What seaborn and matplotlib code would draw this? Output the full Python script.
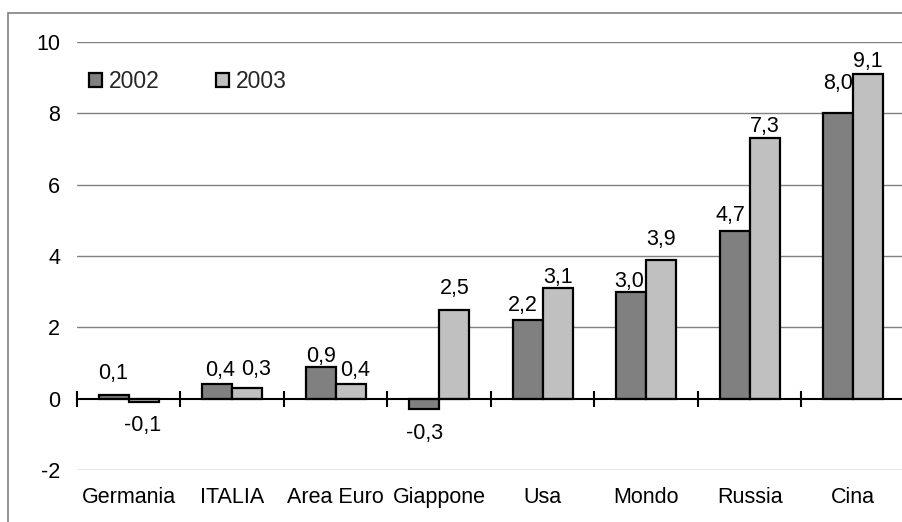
import matplotlib
matplotlib.use("Agg")
import matplotlib.pyplot as plt
from matplotlib.patches import Rectangle
import seaborn as sns
import pandas as pd

# Growth rates (%) by economy
paesi = ["Germania", "ITALIA", "Area Euro", "Giappone", "Usa", "Mondo", "Russia", "Cina"]
anni = ["2002", "2003"]
valori_2002 = [0.1, 0.4, 0.9, -0.3, 2.2, 3.0, 4.7, 8.0]
valori_2003 = [-0.1, 0.3, 0.4, 2.5, 3.1, 3.9, 7.3, 9.1]
y_ticks = [-2, 0, 2, 4, 6, 8, 10]

# value-label placement (px): distance from the bar end and sideways nudge,
# so neighbouring labels do not collide
gap_2002 = [16, 8, 5, 16, 9, 5, 10, 24]
gap_2003 = [15, 13, 8, 16, 5, 15, 6, 7]
dx_2002 = [-1, 3, 0, 0, -5, -2, -4, 0]
dx_2003 = [-1, 9, 4, 0, 0, 0, 0, 0]

df = pd.DataFrame({
    "paese": paesi * 2,
    "anno": [anni[0]] * len(paesi) + [anni[1]] * len(paesi),
    "valore": valori_2002 + valori_2003,
})

FS = 15.5

sns.set_theme(style="white")
plt.rcParams["font.family"] = ["Liberation Sans", "DejaVu Sans"]
plt.rcParams["font.size"] = FS

W, H = 903, 522
fig = plt.figure(figsize=(W / 100, H / 100), dpi=100)
fig.patch.set_facecolor("white")

# outer frame of the chart area
fig.patches.append(Rectangle((8 / W, -0.1), 1.2, 1 - 13 / H + 0.1,
                             transform=fig.transFigure, fill=False,
                             edgecolor="#808080", linewidth=1.2, zorder=0))

ax = fig.add_axes([77 / W, 1 - 470 / H, 828 / W, 428 / H])

sns.barplot(data=df, x="paese", y="valore", hue="anno", order=paesi,
            hue_order=anni, palette=["#808080", "#c0c0c0"], width=0.58,
            gap=0, edgecolor="black", linewidth=1.6, saturation=1,
            ax=ax, zorder=3)

ax.set_xlim(-0.5, len(paesi) - 0.5)
ax.set_ylim(y_ticks[0], y_ticks[-1])
ax.set_xlabel("")
ax.set_ylabel("")

# horizontal gridlines
ax.set_yticks(y_ticks)
ax.set_yticklabels([str(t) for t in y_ticks])
ax.tick_params(axis="y", length=0, pad=12, labelsize=FS, colors="black")
for t in y_ticks:
    if t != 0:
        ax.axhline(t, color="#808080", linewidth=1.0, zorder=1)

for s in ["top", "right", "left"]:
    ax.spines[s].set_visible(False)

# category axis running through zero, with ticks between the groups
ax.spines["bottom"].set_position(("data", 0))
ax.spines["bottom"].set_color("black")
ax.spines["bottom"].set_linewidth(1.5)
ax.spines["bottom"].set_zorder(4)
ax.set_xticks([i - 0.5 for i in range(len(paesi) + 1)])
ax.set_xticklabels([])
ax.tick_params(axis="x", direction="inout", length=11, width=1.5,
               color="black", bottom=True)

# category names along the bottom edge
sec = ax.secondary_xaxis("bottom")
sec.set_xticks(range(len(paesi)))
sec.set_xticklabels(paesi)
sec.tick_params(length=0, pad=12, labelsize=FS, colors="black")
sec.spines["bottom"].set_visible(False)

# value labels
for cont, vals, gaps, dxs in zip(ax.containers, [valori_2002, valori_2003],
                                 [gap_2002, gap_2003], [dx_2002, dx_2003]):
    for bar, v, g, dx in zip(cont, vals, gaps, dxs):
        xc = bar.get_x() + bar.get_width() / 2
        if v >= 0:
            off, va = g * 0.72, "baseline"
        else:
            off, va = -(g - 2) * 0.72, "top"
        ax.annotate(f"{v:.1f}".replace(".", ","), (xc, v),
                    xytext=(dx * 0.72, off), textcoords="offset points",
                    ha="center", va=va, fontsize=FS, color="black", zorder=5)

LFS = 16.5
leg = ax.legend(loc="upper left", bbox_to_anchor=(-0.005, 0.971), ncol=2,
                frameon=False, fontsize=LFS, handlelength=0.57,
                handleheight=0.57, handletextpad=0.3, columnspacing=2.45,
                borderaxespad=0.3)
for h in leg.legend_handles:
    h.set_edgecolor("black")
    h.set_linewidth(1.6)

fig.savefig("out.png", dpi=100)
